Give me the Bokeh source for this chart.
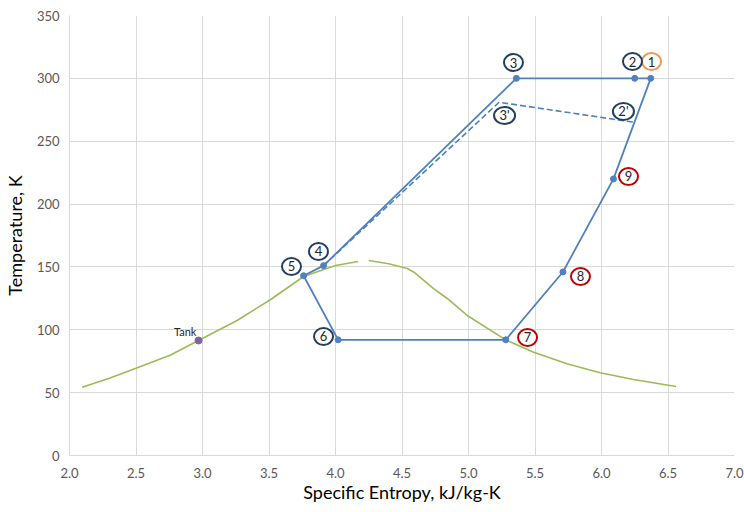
from bokeh.plotting import figure
from bokeh.models import ColumnDataSource, Range1d, FixedTicker
from bokeh.embed import file_html
from bokeh.resources import INLINE
from bokeh.core.properties import value

# ---- data ----
# cycle states 1..9 (specific entropy kJ/kg-K, temperature K)
state_names = ["1", "2", "3", "4", "5", "6", "7", "8", "9"]
state_s = [6.37, 6.25, 5.36, 3.91, 3.76, 4.02, 5.28, 5.71, 6.09]
state_T = [300, 300, 300, 151, 143, 92, 92, 146, 220]

# alternative (dashed) path 4 -> 3' -> 2'
alt_s = [3.91, 5.23, 6.25]
alt_T = [151, 281, 265]

# saturation dome: liquid and vapour branches
liq_s = [2.095, 2.30, 2.51, 2.76, 2.97, 3.26, 3.51, 3.76, 3.89, 4.00, 4.17]
liq_T = [54.3, 61.5, 69.8, 80.0, 91.5, 107.4, 123.9, 142.4, 147.2, 151.2, 154.3]
vap_s = [4.25, 4.40, 4.54, 4.59, 4.74, 4.84, 4.99, 5.28, 5.49, 5.74, 5.99, 6.24, 6.56]
vap_T = [155.1, 152.5, 148.8, 145.8, 132.6, 124.9, 111.4, 92.0, 82.2, 73.0, 65.8, 60.5, 54.9]

# tank state
tank_s = [2.97]
tank_T = [91.5]
tank_label = ["Tank"]
tank_label_s = [2.87]
tank_label_T = [98.6]

# callout labels
label_text = ["1", "2", "3", "2'", "3'", "4", "5", "6", "7", "8", "9"]
label_s = [6.376, 6.233, 5.338, 6.165, 5.271, 3.872, 3.669, 3.910, 5.444, 5.842, 6.203]
label_T = [313.4, 313.4, 312.6, 273.7, 270.5, 162.3, 150.4, 94.7, 93.9, 142.4, 222.0]
label_kind = ["start", "cycle", "cycle", "cycle", "cycle", "cycle", "cycle", "cycle",
              "expand", "expand", "expand"]

x_ticks = [2.0, 2.5, 3.0, 3.5, 4.0, 4.5, 5.0, 5.5, 6.0, 6.5, 7.0]
y_ticks = [0, 50, 100, 150, 200, 250, 300, 350]

# ---- styles ----
BLUE = "#4F81BD"
GREEN = "#9BBB59"
PURPLE = "#8064A2"
kind_color = {"start": "#F79646", "cycle": "#243F60", "expand": "#C00000"}
FONT = "Lato"

p = figure(frame_width=665, frame_height=440, output_backend="svg", toolbar_location=None,
           x_range=Range1d(2.0, 7.0), y_range=Range1d(0, 350),
           min_border_left=61, min_border_right=10, min_border_top=15, min_border_bottom=40)
p.outline_line_color = None
p.background_fill_color = "white"

for ax in (p.xaxis[0], p.yaxis[0]):
    ax.major_tick_line_color = None
    ax.minor_tick_line_color = None
    ax.axis_line_color = "#D9D9D9"
    ax.major_label_text_font = FONT
    ax.major_label_text_font_size = "13px"
    ax.major_label_text_color = "#595959"
    ax.axis_label_text_font = FONT
    ax.axis_label_text_font_size = "18px"
    ax.axis_label_text_font_style = "normal"
    ax.axis_label_text_color = "#000000"

p.xaxis.ticker = FixedTicker(ticks=x_ticks)
p.yaxis.ticker = FixedTicker(ticks=y_ticks)
p.xaxis.major_label_overrides = {t: f"{t:.1f}" for t in x_ticks}
p.xaxis.axis_label = "Specific Entropy, kJ/kg-K"
p.yaxis.axis_label = "Temperature, K"
p.xaxis.major_label_standoff = 6
p.yaxis.major_label_standoff = 4
p.xaxis.axis_label_standoff = 0
p.yaxis.axis_label_standoff = 8

p.xgrid.ticker = FixedTicker(ticks=x_ticks)
p.ygrid.ticker = FixedTicker(ticks=y_ticks)
p.xgrid.grid_line_color = "#D9D9D9"
p.ygrid.grid_line_color = "#D9D9D9"

# saturation dome
p.line(liq_s, liq_T, line_color=GREEN, line_width=1.6)
p.line(vap_s, vap_T, line_color=GREEN, line_width=1.6)

# cycle path 1-2-3-4-5-6-7-8-9-1
cyc_s = state_s + [state_s[0]]
cyc_T = state_T + [state_T[0]]
p.line(cyc_s, cyc_T, line_color=BLUE, line_width=1.8)
p.scatter(state_s, state_T, size=6, fill_color=BLUE, line_color=BLUE)

# dashed alternative path
p.line(alt_s, alt_T, line_color=BLUE, line_width=1.6, line_dash="6 3")

# tank point
p.scatter(tank_s, tank_T, size=7, fill_color=PURPLE, line_color=PURPLE)
p.text(tank_label_s, tank_label_T, text=tank_label, text_font=value(FONT),
       text_font_size="11px", text_color="#262626", text_align="center",
       text_baseline="middle")

# callout ellipses with numbers
lab_src = ColumnDataSource(dict(
    x=label_s, y=label_T, t=label_text,
    c=[kind_color[k] for k in label_kind],
    w=[21 if "'" in t else 19 for t in label_text],
))
p.ellipse(x="x", y="y", width="w", height=17, width_units="screen", height_units="screen",
          fill_color="white", line_color="c", line_width=2, source=lab_src)
p.text(x="x", y="y", text="t", source=lab_src, text_font=value(FONT),
       text_font_size="13px", text_color="#262626", text_align="center",
       text_baseline="middle")

open("out.html", "w").write(file_html(p, INLINE))
